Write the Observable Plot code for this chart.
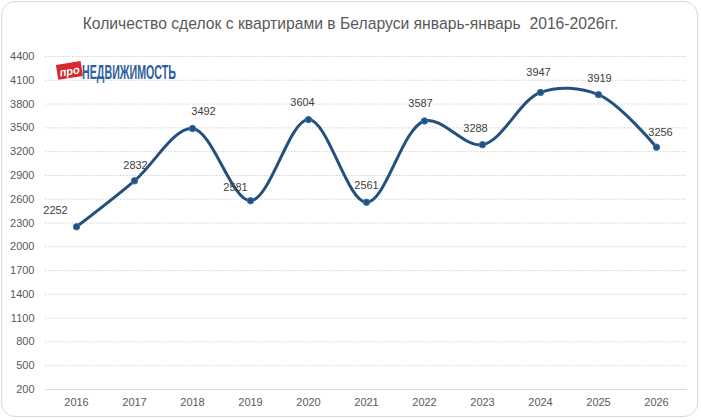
<!DOCTYPE html>
<html>
<head>
<meta charset="utf-8">
<script src="https://cdn.jsdelivr.net/npm/d3@7"></script>
<script src="https://cdn.jsdelivr.net/npm/@observablehq/plot@0.6"></script>
<style>
  html, body { margin: 0; padding: 0; background: #fff; }
  #wrap { position: relative; width: 701px; height: 420px; box-sizing: border-box; overflow: hidden; }
  #frame { position: absolute; left: 1px; top: 1px; width: 697px; height: 416px; box-sizing: border-box;
           border: 1px solid #d9d9d9; border-radius: 14px; pointer-events: none; }
  #title { height: 40px; line-height: 47px; text-align: center; font-family: "Liberation Sans", Arial, sans-serif;
           font-size: 15.7px; color: #595959; white-space: pre; }
  #logo { position: absolute; left: 55px; top: 60px; overflow: visible; }
</style>
</head>
<body>
<div id="wrap">
  <div id="title">Количество сделок с квартирами в Беларуси январь-январь  2016-2026гг.</div>
  <div id="chart"></div>
  <svg id="logo" width="130" height="24" viewBox="0 0 130 24">
    <g transform="rotate(-9 14 11)">
      <rect x="2" y="3" width="25" height="15" fill="#d62a2e"/>
      <text x="14.5" y="15" text-anchor="middle" font-family="Liberation Sans, Arial, sans-serif" font-size="11" font-weight="bold" font-style="italic" fill="#fff">про</text>
    </g>
    <text x="27" y="18.5" textLength="94" lengthAdjust="spacingAndGlyphs" font-family="Liberation Sans, Arial, sans-serif" font-size="20" font-weight="bold" fill="#2f5f9d">НЕДВИЖИМОСТЬ</text>
  </svg>
  <div id="frame"></div>
</div>
<script>
const years = ["2016","2017","2018","2019","2020","2021","2022","2023","2024","2025","2026"];
const deals = [2252, 2832, 3492, 2581, 3604, 2561, 3587, 3288, 3947, 3919, 3256];
const yTicks = [200, 500, 800, 1100, 1400, 1700, 2000, 2300, 2600, 2900, 3200, 3500, 3800, 4100, 4400];
const labelDx = [-21, 1, 11, -15, -6, 0, -4, -7, -2, 1, 4];
const labelDy = [-16, -15, -17, -13, -17, -17, -17, -16, -20, -16, -15];

const data = years.map((y, i) => ({year: y, value: deals[i], dx: labelDx[i], dy: labelDy[i]}));

const chart = Plot.plot({
  width: 701,
  height: 380,
  marginLeft: 45,
  marginRight: 14,
  marginTop: 16,
  marginBottom: 31,
  style: {fontFamily: "Liberation Sans, Arial, sans-serif", fontSize: "11px", color: "#595959", background: "transparent"},
  x: {type: "band", domain: years, padding: 0, label: null, tickSize: 0, tickPadding: 9},
  y: {domain: [200, 4400], ticks: yTicks, tickFormat: d => String(d), label: null, tickSize: 0, tickPadding: 11},
  marks: [
    Plot.gridY(yTicks.filter(t => t !== 200), {stroke: "#d0d0d0", strokeOpacity: 1, strokeDasharray: "1.5,1.5"}),
    Plot.ruleY([200], {stroke: "#d9d9d9", strokeWidth: 1}),
    Plot.line(data, {x: "year", y: "value", curve: "catmull-rom", stroke: "#22507f", strokeWidth: 3}),
    Plot.dot(data, {x: "year", y: "value", r: 3.2, fill: "#22507f", stroke: "#3a73ad", strokeWidth: 1}),
    ...data.map(d => Plot.text([d], {x: "year", y: "value", text: d => String(d.value), dx: d.dx, dy: d.dy, fill: "#404040", fontSize: 11}))
  ]
});
document.getElementById("chart").appendChild(chart);
</script>
</body>
</html>
